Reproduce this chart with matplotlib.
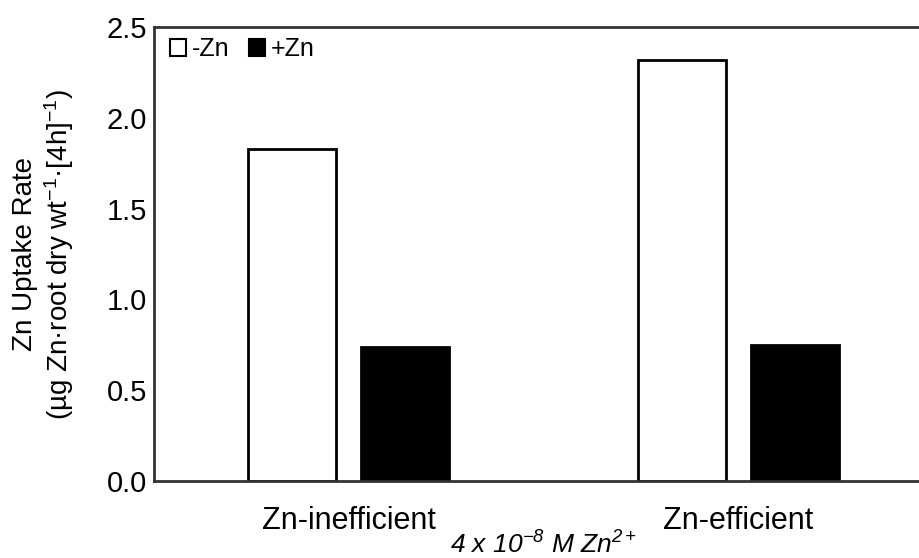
import numpy as np
import matplotlib.pyplot as plt
from matplotlib.patches import Patch

# Dados
genotipos = ['Zn-inefficient', 'Zn-efficient']
menos_zn = [1.83, 2.32]   # -Zn
mais_zn = [0.74, 0.75]    # +Zn
yticks = [0.0, 0.5, 1.0, 1.5, 2.0, 2.5]

plt.rcParams['font.family'] = ['Liberation Sans', 'DejaVu Sans']
plt.rcParams['mathtext.fontset'] = 'custom'
plt.rcParams['mathtext.rm'] = 'Liberation Sans'
plt.rcParams['mathtext.it'] = 'Liberation Sans:italic'
plt.rcParams['mathtext.sf'] = 'Liberation Sans:italic'

fig = plt.figure(figsize=(9.2, 5.58), dpi=100)
ax = fig.add_axes([0.1674, 0.138, 0.8467, 0.8136])

x = np.arange(len(genotipos))
w = 0.225
off = 0.145
ax.bar(x - off, menos_zn, w, color='white', edgecolor='black', linewidth=2)
ax.bar(x + off, mais_zn, w, color='black', edgecolor='black', linewidth=2)

ax.set_xlim(-0.5, 1.5)
ax.set_ylim(0, 2.5)
ax.set_yticks(yticks)
ax.set_yticklabels(['%.1f' % v for v in yticks])
ax.set_xticks(x)
ax.set_xticklabels(genotipos)
ax.tick_params(length=0, labelsize=21, pad=5)
ax.tick_params(axis='x', labelsize=22, pad=18)

for s in ['left', 'bottom', 'top', 'right']:
    ax.spines[s].set_linewidth(2)
    ax.spines[s].set_color('#333333')

ax.set_ylabel('Zn Uptake Rate\n' + r'(µg Zn·root dry wt$^{-1}$·[4h]$^{-1}$)',
              fontsize=20, labelpad=22, linespacing=1.15)
ax.set_xlabel(r'$\mathsf{4\ x\ 10^{-8}\ M\ Zn^{2+}}$', fontsize=19, labelpad=-3)

handles = [Patch(facecolor='white', edgecolor='black', linewidth=1.5),
           Patch(facecolor='black', edgecolor='black', linewidth=1.5)]
ax.legend(handles, ['-Zn', '+Zn'], loc='upper left', bbox_to_anchor=(0.008, 1.0),
          ncol=2, frameon=False, fontsize=18, handlelength=0.65, handleheight=0.65,
          handletextpad=0.2, columnspacing=0.8, borderaxespad=0.0)

plt.savefig('out.png', dpi=100)
